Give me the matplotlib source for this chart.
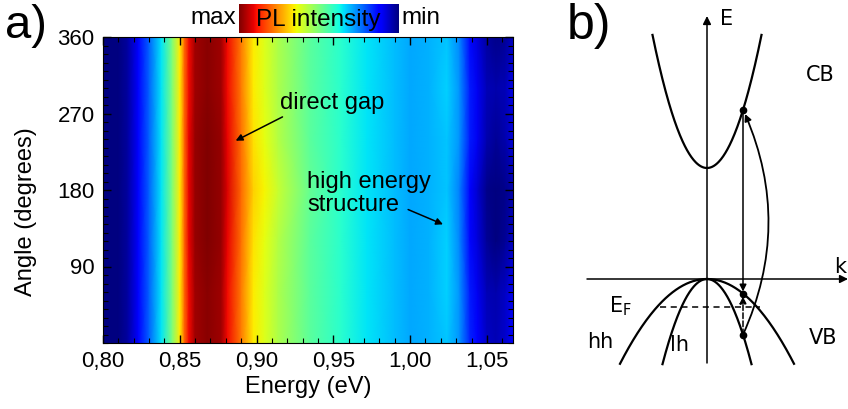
import numpy as np
import matplotlib
matplotlib.use("Agg")
import matplotlib.pyplot as plt
from matplotlib.patches import FancyArrowPatch
from matplotlib.ticker import FuncFormatter, MultipleLocator

plt.rcParams['font.family'] = ['Liberation Sans', 'DejaVu Sans']

# ---------------- data (panel a) ----------------
energy = [0.800, 0.810, 0.816, 0.823, 0.830, 0.838, 0.845, 0.850, 0.853, 0.856,
          0.860, 0.868, 0.877, 0.881, 0.890, 0.898, 0.905, 0.914, 0.935, 0.955,
          0.972, 0.990, 1.000, 1.012, 1.024, 1.032, 1.039, 1.044, 1.050, 1.056,
          1.062, 1.067]
angle = [0, 60, 120, 180, 240, 300, 360]
pl_0 = [0.00, 0.00, 0.03, 0.12, 0.22, 0.35, 0.50, 0.66, 0.80, 0.90,
        0.97, 0.99, 0.97, 0.90, 0.78, 0.66, 0.62, 0.56, 0.46, 0.40,
        0.35, 0.31, 0.29, 0.30, 0.32, 0.27, 0.16, 0.11, 0.06, 0.05,
        0.07, 0.12]
pl_60 = [0.00, 0.00, 0.03, 0.12, 0.22, 0.35, 0.50, 0.66, 0.80, 0.90,
         0.97, 0.99, 0.97, 0.90, 0.78, 0.66, 0.62, 0.56, 0.46, 0.40,
         0.35, 0.31, 0.29, 0.30, 0.33, 0.27, 0.15, 0.10, 0.05, 0.04,
         0.06, 0.10]
pl_120 = [0.00, 0.00, 0.03, 0.12, 0.22, 0.35, 0.50, 0.66, 0.80, 0.91,
          0.98, 1.00, 0.98, 0.91, 0.79, 0.67, 0.63, 0.57, 0.46, 0.40,
          0.35, 0.31, 0.29, 0.30, 0.33, 0.26, 0.13, 0.08, 0.02, 0.00,
          0.02, 0.06]
pl_180 = [0.00, 0.00, 0.03, 0.12, 0.22, 0.35, 0.50, 0.66, 0.80, 0.91,
          0.98, 1.00, 0.98, 0.92, 0.80, 0.69, 0.65, 0.59, 0.47, 0.40,
          0.35, 0.31, 0.29, 0.30, 0.32, 0.25, 0.12, 0.07, 0.01, 0.00,
          0.01, 0.04]
pl_240 = [0.00, 0.00, 0.03, 0.12, 0.22, 0.35, 0.50, 0.66, 0.80, 0.91,
          0.98, 1.00, 0.98, 0.91, 0.79, 0.67, 0.63, 0.57, 0.46, 0.40,
          0.35, 0.31, 0.29, 0.30, 0.32, 0.27, 0.15, 0.10, 0.04, 0.02,
          0.04, 0.08]
pl_300 = [0.00, 0.00, 0.03, 0.12, 0.22, 0.35, 0.50, 0.66, 0.80, 0.90,
          0.97, 0.99, 0.97, 0.90, 0.78, 0.66, 0.62, 0.56, 0.46, 0.40,
          0.35, 0.31, 0.29, 0.30, 0.33, 0.27, 0.15, 0.10, 0.05, 0.04,
          0.05, 0.09]
pl_360 = [0.00, 0.00, 0.03, 0.12, 0.22, 0.35, 0.50, 0.66, 0.80, 0.90,
          0.97, 0.99, 0.97, 0.90, 0.78, 0.66, 0.62, 0.56, 0.46, 0.40,
          0.35, 0.31, 0.29, 0.30, 0.32, 0.26, 0.13, 0.08, 0.03, 0.01,
          0.02, 0.06]
x_ticks = [0.80, 0.85, 0.90, 0.95, 1.00, 1.05]
y_ticks = [90, 180, 270, 360]

# ---------------- data (panel b, schematic in k/E units) ----------------
cb_gap, cb_curv, cb_kmax = 1.11, 4.48, 0.545
hh_curv, hh_kmax = 1.12, 0.87
lh_curv, lh_kmax = 4.3, 0.445
k_trans = 0.36
e_fermi = -0.28

# ---------------- figure ----------------
fig = plt.figure(figsize=(8.48, 4.09), dpi=100)
W, H = 848, 409

ax = fig.add_axes([103 / W, (H - 343) / H, (513 - 103) / W, (343 - 37) / H])
Z = np.array([pl_0, pl_60, pl_120, pl_180, pl_240, pl_300, pl_360])
ax.pcolormesh(energy, angle, Z, cmap='jet', vmin=0, vmax=1, shading='gouraud')
ax.set_xlim(0.80, 1.067)
ax.set_ylim(0, 360)
ax.set_xticks(x_ticks)
ax.set_yticks(y_ticks)
ax.xaxis.set_minor_locator(MultipleLocator(0.01))
ax.yaxis.set_minor_locator(MultipleLocator(10))
ax.xaxis.set_major_formatter(FuncFormatter(lambda v, p: f"{v:.2f}".replace('.', ',')))
ax.tick_params(which='both', direction='in', top=True, right=True, labelsize=16, pad=6)
ax.tick_params(which='major', length=6, width=1)
ax.tick_params(which='minor', length=3.5, width=0.8)
ax.set_xlabel('Energy (eV)', fontsize=17, labelpad=3)
ax.set_ylabel('Angle (degrees)', fontsize=17)
ax.yaxis.set_label_coords(-0.161, 0.43)

ax.annotate('', xy=(0.8864, 238), xytext=(0.9169, 266),
            arrowprops=dict(arrowstyle='-|>', color='black', lw=1.1,
                            mutation_scale=10, shrinkA=0, shrinkB=0))
ax.text(0.9150, 282, 'direct gap', fontsize=17, ha='left', va='center')
ax.annotate('', xy=(1.0214, 139.6), xytext=(0.9987, 157),
            arrowprops=dict(arrowstyle='-|>', color='black', lw=1.1,
                            mutation_scale=10, shrinkA=0, shrinkB=0))
ax.text(0.9331, 176, 'high energy\nstructure', fontsize=17, ha='left', va='center',
        linespacing=1.1)

# colour bar at top
cax = fig.add_axes([239 / W, (H - 33) / H, (398 - 239) / W, 29 / H])
cax.imshow(np.linspace(1, 0, 256)[None, :], cmap='jet', aspect='auto', vmin=0, vmax=1)
cax.set_axis_off()
cax.text(0.5, 0.45, 'PL intensity', transform=cax.transAxes, ha='center', va='center',
         fontsize=17.5)
fig.text(236 / W, 1 - 18 / H, 'max', ha='right', va='center', fontsize=17.5)
fig.text(401 / W, 1 - 18 / H, 'min', ha='left', va='center', fontsize=17.5)

fig.text(5 / W, 1 - 26 / H, 'a)', ha='left', va='center', fontsize=34)
fig.text(567 / W, 1 - 26 / H, 'b)', ha='left', va='center', fontsize=36)

# ---------------- panel b ----------------
bx = fig.add_axes([560 / W, 0, (W - 560) / W, 1])
bx.set_xlim((560 - 707) / 100, (848 - 707) / 100)
bx.set_ylim((279 - 409) / 100, 279 / 100)
bx.set_axis_off()
lw = 1.6
kw = dict(arrowstyle='-|>', color='black', lw=1.1, mutation_scale=12, shrinkA=0, shrinkB=0)
bx.add_patch(FancyArrowPatch((0, -0.84), (0, 2.63), **kw))
bx.add_patch(FancyArrowPatch((-1.20, 0), (1.41, 0), **kw))

k = np.linspace(-cb_kmax, cb_kmax, 200)
bx.plot(k, cb_gap + cb_curv * k ** 2, color='black', lw=lw)
k = np.linspace(-hh_kmax, hh_kmax, 200)
bx.plot(k, -hh_curv * k ** 2, color='black', lw=lw)
k = np.linspace(-lh_kmax, lh_kmax, 200)
bx.plot(k, -lh_curv * k ** 2, color='black', lw=lw)

e_cb = cb_gap + cb_curv * k_trans ** 2
e_hh = -hh_curv * k_trans ** 2
e_lh = -lh_curv * k_trans ** 2
bx.plot([-0.47, 0.53], [e_fermi, e_fermi], color='black', lw=1.1, ls=(0, (4, 3)))
bx.add_patch(FancyArrowPatch((k_trans, e_cb), (k_trans, e_hh + 0.02),
                             arrowstyle='-|>', color='black', lw=1.1,
                             mutation_scale=10, shrinkA=0, shrinkB=0))
bx.add_patch(FancyArrowPatch((k_trans, e_lh), (k_trans, e_hh - 0.03),
                             arrowstyle='-|>', color='black', lw=1.1, ls='--',
                             mutation_scale=10, shrinkA=0, shrinkB=0))
bx.add_patch(FancyArrowPatch((k_trans, e_lh), (k_trans + 0.02, e_cb - 0.04),
                             connectionstyle='arc3,rad=0.22',
                             arrowstyle='-|>', color='black', lw=1.3,
                             mutation_scale=10, shrinkA=0, shrinkB=0))
bx.plot([k_trans] * 3, [e_cb, e_hh, e_lh], 'o', color='black', ms=4.5)

fb = dict(fontsize=15, family=['DejaVu Sans'])
bx.text(0.13, 2.60, 'E', ha='left', va='center', **fb)
bx.text(1.27, 0.12, 'k', ha='left', va='center', **fb)
bx.text(1.13, 2.04, 'CB', ha='center', va='center', **fb)
bx.text(1.16, -0.59, 'VB', ha='center', va='center', **fb)
bx.text(-1.07, -0.63, 'hh', ha='center', va='center', **fb)
bx.text(-0.27, -0.66, 'lh', ha='center', va='center', **fb)
bx.text(-0.87, -0.27, r'E$_\mathregular{F}$', ha='center', va='center', **fb)

fig.savefig('out.png', dpi=100)
